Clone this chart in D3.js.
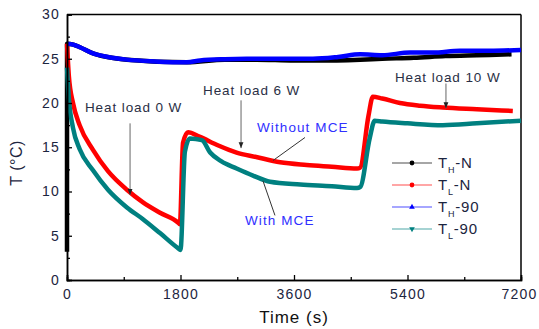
<!DOCTYPE html>
<html>
<head>
<meta charset="utf-8">
<script src="https://cdn.jsdelivr.net/npm/d3@7"></script>
<style>
  body { margin: 0; background: #fff; }
  svg text { font-family: "Liberation Sans", Arial, sans-serif; }
  .tick text { font-size: 14px; fill: #1c2540; letter-spacing: 1.2px; }
  .note { font-size: 13.5px; fill: #2a2f45; letter-spacing: 0.9px; }
  .mce { font-size: 13.5px; fill: #3030ff; letter-spacing: 1.1px; }
</style>
</head>
<body>
<div id="chart"></div>
<script>
// T_H-N
var thnTime = [0, 1, 100, 206, 412, 950, 1900, 2500, 3000, 3600, 4000, 4650, 5000, 5500, 6000, 6500, 7050];
var thnTemp = [3.2, 26.7, 26.6, 26.3, 25.6, 24.9, 24.6, 24.9, 24.9, 24.8, 24.8, 24.9, 25.0, 25.1, 25.3, 25.4, 25.5];
// T_L-N
var tlnTime = [0, 30, 95, 200, 412, 650, 950, 1200, 1475, 1760, 1790, 1840, 1920, 2100, 2400, 2690, 3000, 3380, 3800, 4200, 4600, 4650, 4780, 4850, 5000, 5280, 5600, 5960, 6500, 7070];
var tlnTemp = [26.7, 23, 20, 17.5, 14.7, 12.3, 10.2, 8.8, 7.6, 6.5, 6.3, 15.5, 16.7, 16.2, 15.2, 14.4, 13.9, 13.3, 13.0, 12.8, 12.6, 12.7, 18.5, 20.7, 20.5, 20.0, 19.7, 19.5, 19.3, 19.1];
// T_H-90
var th90Time = [0, 100, 206, 412, 650, 950, 1400, 1900, 2110, 2500, 2850, 3400, 3900, 4300, 4650, 5000, 5440, 5800, 6230, 6700, 7200];
var th90Temp = [26.7, 26.6, 26.3, 25.6, 25.2, 24.9, 24.7, 24.6, 24.8, 24.95, 25.0, 25.0, 25.0, 25.2, 25.5, 25.4, 25.7, 25.7, 25.9, 25.9, 26.0];
// T_L-90
var tl90Time = [0, 30, 95, 200, 412, 650, 950, 1200, 1475, 1760, 1800, 1870, 1950, 2140, 2270, 2450, 2690, 2950, 3220, 3700, 4200, 4600, 4650, 4800, 4880, 5000, 5400, 5960, 6500, 7200];
var tl90Temp = [24, 20.5, 17.2, 14.8, 12.4, 10.2, 8.2, 6.9, 5.3, 3.6, 3.4, 14.5, 16.0, 15.8, 14.4, 13.4, 12.6, 11.8, 11.1, 10.8, 10.6, 10.4, 10.5, 16, 18.0, 17.9, 17.7, 17.5, 17.7, 18.0];

var xTicks = [0, 1800, 3600, 5400, 7200];
var xMinor = [900, 2700, 4500, 6300];
var yTicks = [0, 5, 10, 15, 20, 25, 30];
var yMinor = [2.5, 7.5, 12.5, 17.5, 22.5, 27.5];

var seriesNames = ["H|-N", "L|-N", "H|-90", "L|-90"];
var seriesColors = ["#000000", "#ff0000", "#0000ff", "#008080"];
var seriesSymbols = [d3.symbolCircle, d3.symbolCircle, d3.symbolTriangle, "down"];

// label position (time, temp) and arrow (time, from temp, to temp)
var heatLoads = [
  { label: "Heat load 0 W", t: 285, v: 18.95, at: 1000, from: 17.7, to: 9.6 },
  { label: "Heat load 6 W", t: 2157, v: 20.9, at: 2760, from: 20.3, to: 14.9 },
  { label: "Heat load 10 W", t: 5200, v: 22.35, at: 6010, from: 22.2, to: 19.4 }
];

var width = 539, height = 329;
var margin = { left: 67, right: 18, top: 14.5, bottom: 49 };

var svg = d3.select("#chart").append("svg")
    .attr("width", width)
    .attr("height", height);

var x = d3.scaleLinear().domain([0, 7200]).range([margin.left, width - margin.right]);
var y = d3.scaleLinear().domain([0, 30]).range([height - margin.bottom, margin.top]);

var series = [
  d3.zip(thnTime, thnTemp),
  d3.zip(tlnTime, tlnTemp),
  d3.zip(th90Time, th90Temp),
  d3.zip(tl90Time, tl90Temp)
];

// frame
svg.append("line")
    .attr("x1", x(0)).attr("x2", x(7200))
    .attr("y1", y(30)).attr("y2", y(30))
    .attr("stroke", "#000").attr("stroke-width", 1.3);
svg.append("line")
    .attr("x1", x(7200)).attr("x2", x(7200))
    .attr("y1", y(30)).attr("y2", y(0))
    .attr("stroke", "#000").attr("stroke-width", 1.5);

// data lines
var line = d3.line()
    .curve(d3.curveMonotoneX)
    .x(function(d) { return x(d[0]); })
    .y(function(d) { return y(d[1]); });

series.forEach(function(s, i) {
  svg.append("path")
      .datum(s)
      .attr("fill", "none")
      .attr("stroke", seriesColors[i])
      .attr("stroke-width", 4.5)
      .attr("stroke-linejoin", "round")
      .attr("d", line);
});

// axes
var xAxis = svg.append("g")
    .attr("transform", "translate(0," + y(0) + ")")
    .call(d3.axisBottom(x).tickValues(xTicks).tickSize(-5).tickPadding(9).tickFormat(d3.format("d")));
var xMinorAxis = svg.append("g")
    .attr("transform", "translate(0," + y(0) + ")")
    .call(d3.axisBottom(x).tickValues(xMinor).tickSize(-3).tickFormat(""));
var yAxis = svg.append("g")
    .attr("transform", "translate(" + x(0) + ",0)")
    .call(d3.axisLeft(y).tickValues(yTicks).tickSize(-5).tickPadding(7));
var yMinorAxis = svg.append("g")
    .attr("transform", "translate(" + x(0) + ",0)")
    .call(d3.axisLeft(y).tickValues(yMinor).tickSize(-3).tickFormat(""));

[xAxis, xMinorAxis, yAxis, yMinorAxis].forEach(function(a) {
  a.select(".domain").attr("stroke", "#000").attr("stroke-width", 1.5);
  a.selectAll(".tick line").attr("stroke", "#000").attr("stroke-width", 1.3);
});
// keep the last label inside the page
xAxis.selectAll(".tick text").filter(function(d) { return d === 7200; }).attr("dx", "-0.15em");

// axis titles
svg.append("text")
    .attr("x", x(3600))
    .attr("y", 323)
    .attr("text-anchor", "middle")
    .style("font-size", "17px")
    .style("letter-spacing", "1px")
    .attr("fill", "#111")
    .text("Time (s)");

svg.append("text")
    .attr("transform", "translate(22," + 163 + ") rotate(-90)")
    .attr("text-anchor", "middle")
    .style("font-size", "16px")
    .style("letter-spacing", "0.5px")
    .attr("fill", "#1c2540")
    .text("T (°C)");

// heat load annotations
var defs = svg.append("defs");
defs.append("marker")
    .attr("id", "head")
    .attr("viewBox", "0 0 10 10")
    .attr("refX", 10).attr("refY", 5)
    .attr("markerWidth", 6).attr("markerHeight", 6)
    .attr("orient", "auto")
    .append("path")
    .attr("d", "M0,1 L10,5 L0,9 Z")
    .attr("fill", "#222");

heatLoads.forEach(function(h) {
  svg.append("text")
      .attr("class", "note")
      .attr("x", x(h.t))
      .attr("y", y(h.v))
      .text(h.label);
  svg.append("line")
      .attr("x1", x(h.at)).attr("x2", x(h.at))
      .attr("y1", y(h.from)).attr("y2", y(h.to))
      .attr("stroke", "#666")
      .attr("stroke-width", 1)
      .attr("marker-end", "url(#head)");
});

// MCE labels
svg.append("text").attr("class", "mce")
    .attr("x", x(3013)).attr("y", y(16.7))
    .text("Without MCE");
svg.append("line")
    .attr("x1", x(3774)).attr("y1", y(16.1))
    .attr("x2", x(3267)).attr("y2", y(13.5))
    .attr("stroke", "#333").attr("stroke-width", 1);

svg.append("text").attr("class", "mce")
    .attr("x", x(2823)).attr("y", y(6.2))
    .text("With MCE");
svg.append("line")
    .attr("x1", x(3108)).attr("y1", y(11.2))
    .attr("x2", x(3298)).attr("y2", y(7.3))
    .attr("stroke", "#333").attr("stroke-width", 1);

// legend
var legend = svg.append("g").attr("transform", "translate(392,163)");
seriesNames.forEach(function(name, i) {
  var g = legend.append("g").attr("transform", "translate(0," + (i * 22) + ")");
  g.append("line")
      .attr("x1", 0).attr("x2", 40)
      .attr("stroke", seriesColors[i])
      .attr("stroke-opacity", 0.35)
      .attr("stroke-width", 2);
  var sym = seriesSymbols[i];
  var path = g.append("path")
      .attr("fill", seriesColors[i])
      .attr("d", d3.symbol().type(sym === "down" ? d3.symbolTriangle : sym).size(sym === d3.symbolCircle ? 18 : 14)());
  path.attr("transform", "translate(20,0)" + (sym === "down" ? " rotate(180)" : ""));
  var parts = name.split("|");
  var t = g.append("text")
      .attr("x", 46).attr("y", 5)
      .style("font-size", "15px")
      .style("letter-spacing", "0.8px")
      .attr("fill", "#1c2540");
  t.append("tspan").text("T");
  t.append("tspan").attr("dy", 5).style("font-size", "9px").text(parts[0]);
  t.append("tspan").attr("dy", -5).text(parts[1]);
});
</script>
</body>
</html>
